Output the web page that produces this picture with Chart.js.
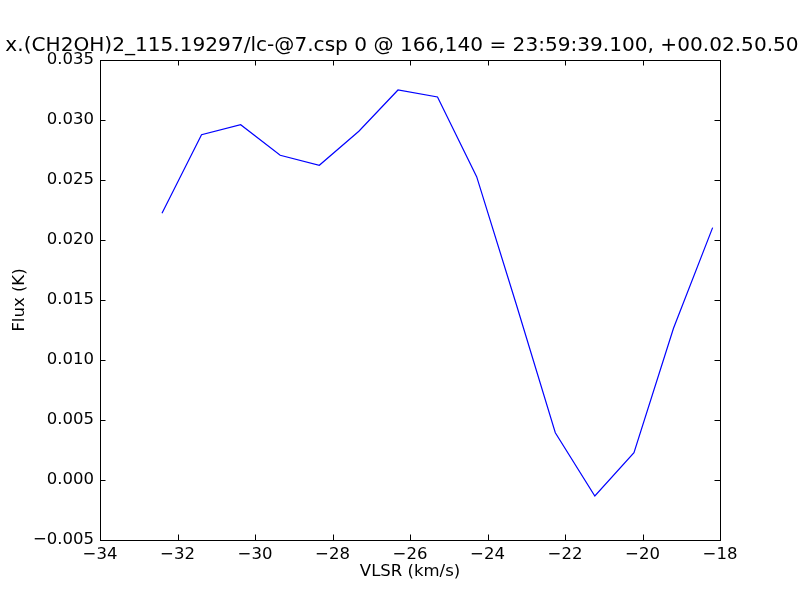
<!DOCTYPE html>
<html>
<head>
<meta charset="utf-8">
<script src="https://cdn.jsdelivr.net/npm/chart.js@4/dist/chart.umd.min.js"></script>
<style>
  html, body { margin: 0; padding: 0; background: #fff; }
  #wrap { width: 800px; height: 600px; }
</style>
</head>
<body>
<div id="wrap"><canvas id="spectrum"></canvas></div>
<script>
// Spectrum samples
const velocity = [-32.40, -31.38, -30.37, -29.35, -28.34, -27.32, -26.31, -25.29,
                  -24.28, -23.26, -22.25, -21.23, -20.22, -19.20, -18.19];
const flux = [0.02223, 0.02878, 0.02961, 0.02706, 0.02623, 0.02906, 0.03250, 0.03192,
              0.02528, 0.01467, 0.00394, -0.00133, 0.00228, 0.01264, 0.02103];
const xTicks = [-34, -32, -30, -28, -26, -24, -22, -20, -18];
const yTicks = [-0.005, 0, 0.005, 0.010, 0.015, 0.020, 0.025, 0.030, 0.035];

const titleText = "x.(CH2OH)2_115.19297/lc-@7.csp 0 @ 166,140 = 23:59:39.100, +00.02.50.50";
const fontFamily = "'DejaVu Sans', sans-serif";

function fmtMinus(s) {
  return s.replace("-", "\u2212");
}

// Frame, inward ticks on all four sides, and the title centred over the axes
const frameTicks = {
  id: "frameTicks",
  afterDraw(chart) {
    const ctx = chart.ctx;
    const a = chart.chartArea;
    const xs = chart.scales.x;
    const ys = chart.scales.y;
    const len = 5.5;
    ctx.save();
    ctx.strokeStyle = "#000";
    ctx.lineWidth = 1;
    ctx.beginPath();
    xTicks.forEach(function (v) {
      const px = Math.round(xs.getPixelForValue(v)) + 0.5;
      ctx.moveTo(px, a.bottom);
      ctx.lineTo(px, a.bottom - len);
      ctx.moveTo(px, a.top);
      ctx.lineTo(px, a.top + len);
    });
    yTicks.forEach(function (v) {
      const py = Math.round(ys.getPixelForValue(v)) + 0.5;
      ctx.moveTo(a.left, py);
      ctx.lineTo(a.left + len, py);
      ctx.moveTo(a.right, py);
      ctx.lineTo(a.right - len, py);
    });
    ctx.stroke();
    ctx.strokeRect(Math.round(a.left) + 0.5, Math.round(a.top) + 0.5,
                   Math.round(a.right - a.left), Math.round(a.bottom - a.top));

    // title
    ctx.fillStyle = "#000";
    ctx.font = "20.1px " + fontFamily;
    ctx.textAlign = "center";
    ctx.textBaseline = "middle";
    ctx.fillText(titleText, (a.left + a.right) / 2 - 8, a.top - 14);
    ctx.restore();
  }
};

new Chart(document.getElementById("spectrum").getContext("2d"), {
  type: "line",
  data: {
    datasets: [{
      data: velocity.map(function (v, i) { return { x: v, y: flux[i] }; }),
      borderColor: "#0000ff",
      borderWidth: 1.2,
      pointRadius: 0,
      fill: false,
      tension: 0
    }]
  },
  options: {
    responsive: true,
    maintainAspectRatio: false,
    animation: false,
    layout: { padding: { left: 0, right: 80, top: 60, bottom: 0 } },
    plugins: {
      legend: { display: false },
      tooltip: { enabled: false },
      title: { display: false }
    },
    scales: {
      x: {
        type: "linear",
        min: -34,
        max: -18,
        afterBuildTicks(scale) { scale.ticks = xTicks.map(function (v) { return { value: v }; }); },
        afterFit(scale) { scale.height = 60; },
        grid: { display: false, drawTicks: false },
        border: { display: false },
        ticks: {
          color: "#000",
          padding: 5,
          maxRotation: 0,
          font: { family: fontFamily, size: 16.5 },
          callback: function (v) { return fmtMinus(String(v)); }
        },
        title: {
          display: true,
          text: "VLSR (km/s)",
          color: "#000",
          font: { family: fontFamily, size: 16.5 },
          padding: { top: 2, bottom: 18 }
        }
      },
      y: {
        type: "linear",
        min: -0.005,
        max: 0.035,
        afterBuildTicks(scale) { scale.ticks = yTicks.map(function (v) { return { value: v }; }); },
        afterFit(scale) { scale.width = 100; },
        grid: { display: false, drawTicks: false },
        border: { display: false },
        ticks: {
          color: "#000",
          padding: 6,
          font: { family: fontFamily, size: 16.5 },
          callback: function (v) { return fmtMinus(Number(v).toFixed(3)); }
        },
        title: {
          display: true,
          text: "Flux (K)",
          color: "#000",
          font: { family: fontFamily, size: 16.5 },
          padding: { top: 10, bottom: 0 }
        }
      }
    }
  },
  plugins: [frameTicks]
});
</script>
</body>
</html>
